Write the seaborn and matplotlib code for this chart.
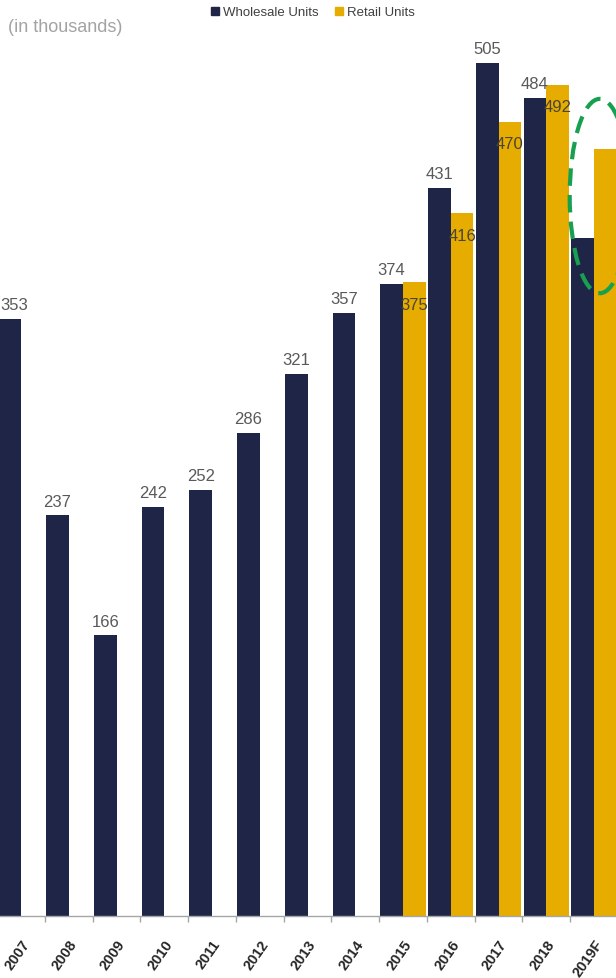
import matplotlib
matplotlib.use("Agg")
import matplotlib.pyplot as plt
import pandas as pd
import seaborn as sns
from matplotlib.patches import Ellipse
from matplotlib.lines import Line2D

# Unit volumes, in thousands
years = ["2007", "2008", "2009", "2010", "2011", "2012", "2013",
         "2014", "2015", "2016", "2017", "2018", "2019F"]
wholesale = [353, 237, 166, 242, 252, 286, 321, 357, 374, 431, 505, 484, 401]
retail_years = ["2015", "2016", "2017", "2018", "2019F"]
retail = [375, 416, 470, 492, 454]
series_names = ["Wholesale Units", "Retail Units"]

NAVY = "#1f2547"
GOLD = "#e6ac00"
GREEN = "#17a050"

sns.set_theme(style="white")
plt.rcParams["font.family"] = ["Liberation Sans", "DejaVu Sans"]

df = pd.concat([
    pd.DataFrame({"year": years, "units": wholesale, "series": series_names[0]}),
    pd.DataFrame({"year": retail_years, "units": retail, "series": series_names[1]}),
], ignore_index=True)

fig = plt.figure(figsize=(6.16, 9.79), dpi=100)
ax = fig.add_axes([0, 62 / 979, 1, 917 / 979])

sns.barplot(data=df, x="year", y="units", hue="series", order=years,
            hue_order=series_names, palette=[NAVY, GOLD], saturation=1,
            width=0.95, linewidth=0, ax=ax, legend=False)

ax.set_xlim(-0.44, 12.46)
ax.set_ylim(0, 542.6)
ax.set_xlabel("")
ax.set_ylabel("")
ax.set_yticks([])

for side in ("top", "right", "left"):
    ax.spines[side].set_visible(False)
ax.spines["bottom"].set_color("#a6a6a6")
ax.spines["bottom"].set_linewidth(1.0)

# year labels at group centres, tick marks at group boundaries
ax.set_xticks(range(len(years)))
ax.set_xticklabels(years, rotation=55, ha="right", rotation_mode="anchor",
                   fontweight="bold", fontsize=10.5, color="#262626")
ax.set_xticks([i + 0.5 for i in range(len(years) - 1)], minor=True)
ax.tick_params(axis="x", which="major", length=0, pad=15)
ax.tick_params(axis="x", which="minor", length=4, width=1, color="#a6a6a6",
               direction="out", bottom=True)

# value labels: wholesale above the bar, retail just inside the top
labeled = years[:-1]
for i, (patch, year, val) in enumerate(zip(ax.containers[0], years, wholesale)):
    if year not in labeled:
        continue
    cx = patch.get_x() + patch.get_width() / 2
    dx = 3 if i == 0 else 0  # keep the edge label inside the frame
    ax.annotate(f"{val}", (cx, val), xytext=(dx, 5), textcoords="offset points",
                ha="center", va="bottom", fontsize=12, color="#595959")
for patch, year, val in zip(ax.containers[1], retail_years, retail):
    if year not in labeled:
        continue
    cx = patch.get_x() + patch.get_width() / 2
    ax.annotate(f"{val}", (cx, val), xytext=(0, -16), textcoords="offset points",
                ha="center", va="center", fontsize=12, color="#4a4535")

# forecast highlight
ax.add_patch(Ellipse((12.12, 426), width=1.26, height=115, fill=False,
                     edgecolor=GREEN, linewidth=3, linestyle=(0, (4.2, 2.2)),
                     clip_on=False, zorder=5))

fig.text(8 / 616, 1 - 27 / 979, "(in thousands)", ha="left", va="center",
         fontsize=13, color="#a3a3a3")

handles = [Line2D([], [], marker="s", linestyle="", markersize=5.5,
                  markerfacecolor=c, markeredgecolor=c) for c in (NAVY, GOLD)]
fig.legend(handles, series_names, loc="upper center", bbox_to_anchor=(0.508, 1.0),
           ncol=2, frameon=False, fontsize=9.5, handlelength=0.6,
           handletextpad=0.3, columnspacing=1.3, borderaxespad=0.35,
           borderpad=0.2, labelcolor="#404040")

fig.savefig("out.png", dpi=100, facecolor="white")
